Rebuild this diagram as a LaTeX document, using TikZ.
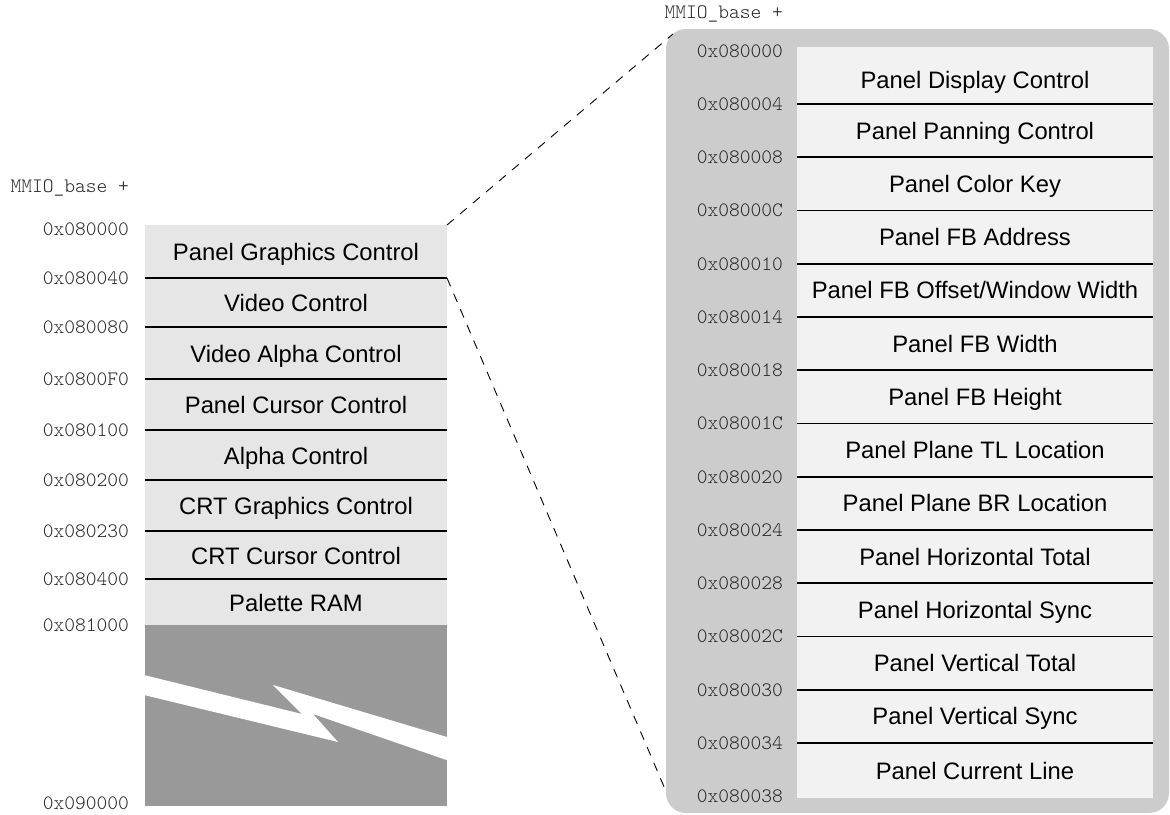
\documentclass[tikz,border=0pt]{standalone}
\usepackage{fontspec}
\setmainfont{Liberation Sans}
\setmonofont{lmmonolt10-regular.otf}
\usetikzlibrary{positioning}

\definecolor{regfill}{HTML}{E6E6E6}
\definecolor{holefill}{HTML}{999999}
\definecolor{panelfill}{HTML}{CCCCCC}
\definecolor{subfill}{HTML}{F2F2F2}

\begin{document}
\begin{tikzpicture}[x=1pt,y=-1pt,node distance=0pt,
                    inner sep=0pt,outer sep=0pt]
  \tikzstyle{reg}=[fill=regfill,minimum width=302pt,text height=18pt,text depth=0pt,
                   font=\fontsize{23.8pt}{28pt}\selectfont]
  \tikzstyle{subreg}=[reg,fill=subfill,minimum width=356pt,minimum height=53.25pt,text height=17pt]
  \tikzstyle{addr}=[font=\ttfamily\fontsize{20.5pt}{22pt}\selectfont,text=black!85]
  \tikzstyle{rowline}=[line width=1.9pt]
  \tikzstyle{zoomline}=[dash pattern=on 9pt off 8pt,line width=0.9pt]

  \useasboundingbox (0,0) rectangle (1170,814);

  % left: register map
  \node[reg,minimum height=53pt] (pgc) at (296,251.5) {Panel Graphics Control};
  \node[reg,minimum height=49pt,below=of pgc] (vc)   {Video Control};
  \node[reg,minimum height=52pt,below=of vc]  (vac)  {Video Alpha Control};
  \node[reg,minimum height=51pt,below=of vac] (pcc)  {Panel Cursor Control};
  \node[reg,minimum height=50pt,below=of pcc] (ac)   {Alpha Control};
  \node[reg,minimum height=51pt,below=of ac]  (cgc)  {CRT Graphics Control};
  \node[reg,minimum height=48pt,below=of cgc] (ccc)  {CRT Cursor Control};
  \node[reg,minimum height=46pt,below=of ccc] (pram) {Palette RAM};
  \node[fill=holefill,minimum width=302pt,minimum height=181pt,below=of pram] (hole) {};
  \fill[white] (144,675) -- (302,714) -- (273,685) -- (448,737.3) -- (448,760.5)
               -- (313,714) -- (338,742) -- (144,695) -- cycle;

  \draw[rowline] (pgc.south west) -- (pgc.south east);
  \draw[rowline] (vc.south west)  -- (vc.south east);
  \draw[rowline] (vac.south west) -- (vac.south east);
  \draw[rowline] (pcc.south west) -- (pcc.south east);
  \draw[rowline] (ac.south west)  -- (ac.south east);
  \draw[rowline] (cgc.south west) -- (cgc.south east);
  \draw[rowline] (ccc.south west) -- (ccc.south east);

  \node[addr,anchor=east] (lbase) at (129,188) {MMIO\_base +};
  \node[addr,left=16pt of pgc.north west,yshift=-4pt] (la0) {0x080000};
  \node[addr,left=16pt of pgc.south west]  (la1) {0x080040};
  \node[addr,left=16pt of vc.south west]   (la2) {0x080080};
  \node[addr,left=16pt of vac.south west]  (la3) {0x0800F0};
  \node[addr,left=16pt of pcc.south west]  (la4) {0x080100};
  \node[addr,left=16pt of ac.south west]   (la5) {0x080200};
  \node[addr,left=16pt of cgc.south west]  (la6) {0x080230};
  \node[addr,left=16pt of ccc.south west]  (la7) {0x080400};
  \node[addr,left=16pt of pram.south west] (la8) {0x081000};
  \node[addr,left=16pt of hole.south west,yshift=3pt] (la9) {0x090000};

  % right: panel registers
  \node[fill=panelfill,rounded corners=20pt,minimum width=503pt,minimum height=784pt]
       (panel) at (917.5,421) {};
  \coordinate (ztop) at (673,34);
  \coordinate (zbot) at (665,789);
  \draw[zoomline] (pgc.north east) -- (ztop);
  \draw[zoomline] (pgc.south east) -- (zbot);

  \node[subreg,minimum height=57pt,text height=25pt] (pdc) at (975,75.5) {Panel Display Control};
  \node[subreg,below=of pdc] (ppc) {Panel Panning Control};
  \node[subreg,below=of ppc] (pck) {Panel Color Key};
  \node[subreg,below=of pck] (pfa) {Panel FB Address};
  \node[subreg,below=of pfa] (pfo) {Panel FB Offset/Window Width};
  \node[subreg,below=of pfo] (pfw) {Panel FB Width};
  \node[subreg,below=of pfw] (pfh) {Panel FB Height};
  \node[subreg,below=of pfh] (ptl) {Panel Plane TL Location};
  \node[subreg,below=of ptl] (pbr) {Panel Plane BR Location};
  \node[subreg,below=of pbr] (pht) {Panel Horizontal Total};
  \node[subreg,below=of pht] (phs) {Panel Horizontal Sync};
  \node[subreg,below=of phs] (pvt) {Panel Vertical Total};
  \node[subreg,below=of pvt] (pvs) {Panel Vertical Sync};
  \node[subreg,minimum height=55pt,below=of pvs] (pcl) {Panel Current Line};

  \draw[rowline] (pdc.south west) -- (pdc.south east);
  \draw[rowline] (ppc.south west) -- (ppc.south east);
  \draw[rowline] (pck.south west) -- (pck.south east);
  \draw[rowline] (pfa.south west) -- (pfa.south east);
  \draw[rowline] (pfo.south west) -- (pfo.south east);
  \draw[rowline] (pfw.south west) -- (pfw.south east);
  \draw[rowline] (pfh.south west) -- (pfh.south east);
  \draw[rowline] (ptl.south west) -- (ptl.south east);
  \draw[rowline] (pbr.south west) -- (pbr.south east);
  \draw[rowline] (pht.south west) -- (pht.south east);
  \draw[rowline] (phs.south west) -- (phs.south east);
  \draw[rowline] (pvt.south west) -- (pvt.south east);
  \draw[rowline] (pvs.south west) -- (pvs.south east);

  \node[addr,anchor=east] (rbase) at (783,14) {MMIO\_base +};
  \node[addr,left=14pt of pdc.north west,yshift=-4pt] (ra0) {0x080000};
  \node[addr,left=14pt of pdc.south west] (ra1)  {0x080004};
  \node[addr,left=14pt of ppc.south west] (ra2)  {0x080008};
  \node[addr,left=14pt of pck.south west] (ra3)  {0x08000C};
  \node[addr,left=14pt of pfa.south west] (ra4)  {0x080010};
  \node[addr,left=14pt of pfo.south west] (ra5)  {0x080014};
  \node[addr,left=14pt of pfw.south west] (ra6)  {0x080018};
  \node[addr,left=14pt of pfh.south west] (ra7)  {0x08001C};
  \node[addr,left=14pt of ptl.south west] (ra8)  {0x080020};
  \node[addr,left=14pt of pbr.south west] (ra9)  {0x080024};
  \node[addr,left=14pt of pht.south west] (ra10) {0x080028};
  \node[addr,left=14pt of phs.south west] (ra11) {0x08002C};
  \node[addr,left=14pt of pvt.south west] (ra12) {0x080030};
  \node[addr,left=14pt of pvs.south west] (ra13) {0x080034};
  \node[addr,left=14pt of pcl.south west,yshift=2pt] (ra14) {0x080038};
\end{tikzpicture}
\end{document}
